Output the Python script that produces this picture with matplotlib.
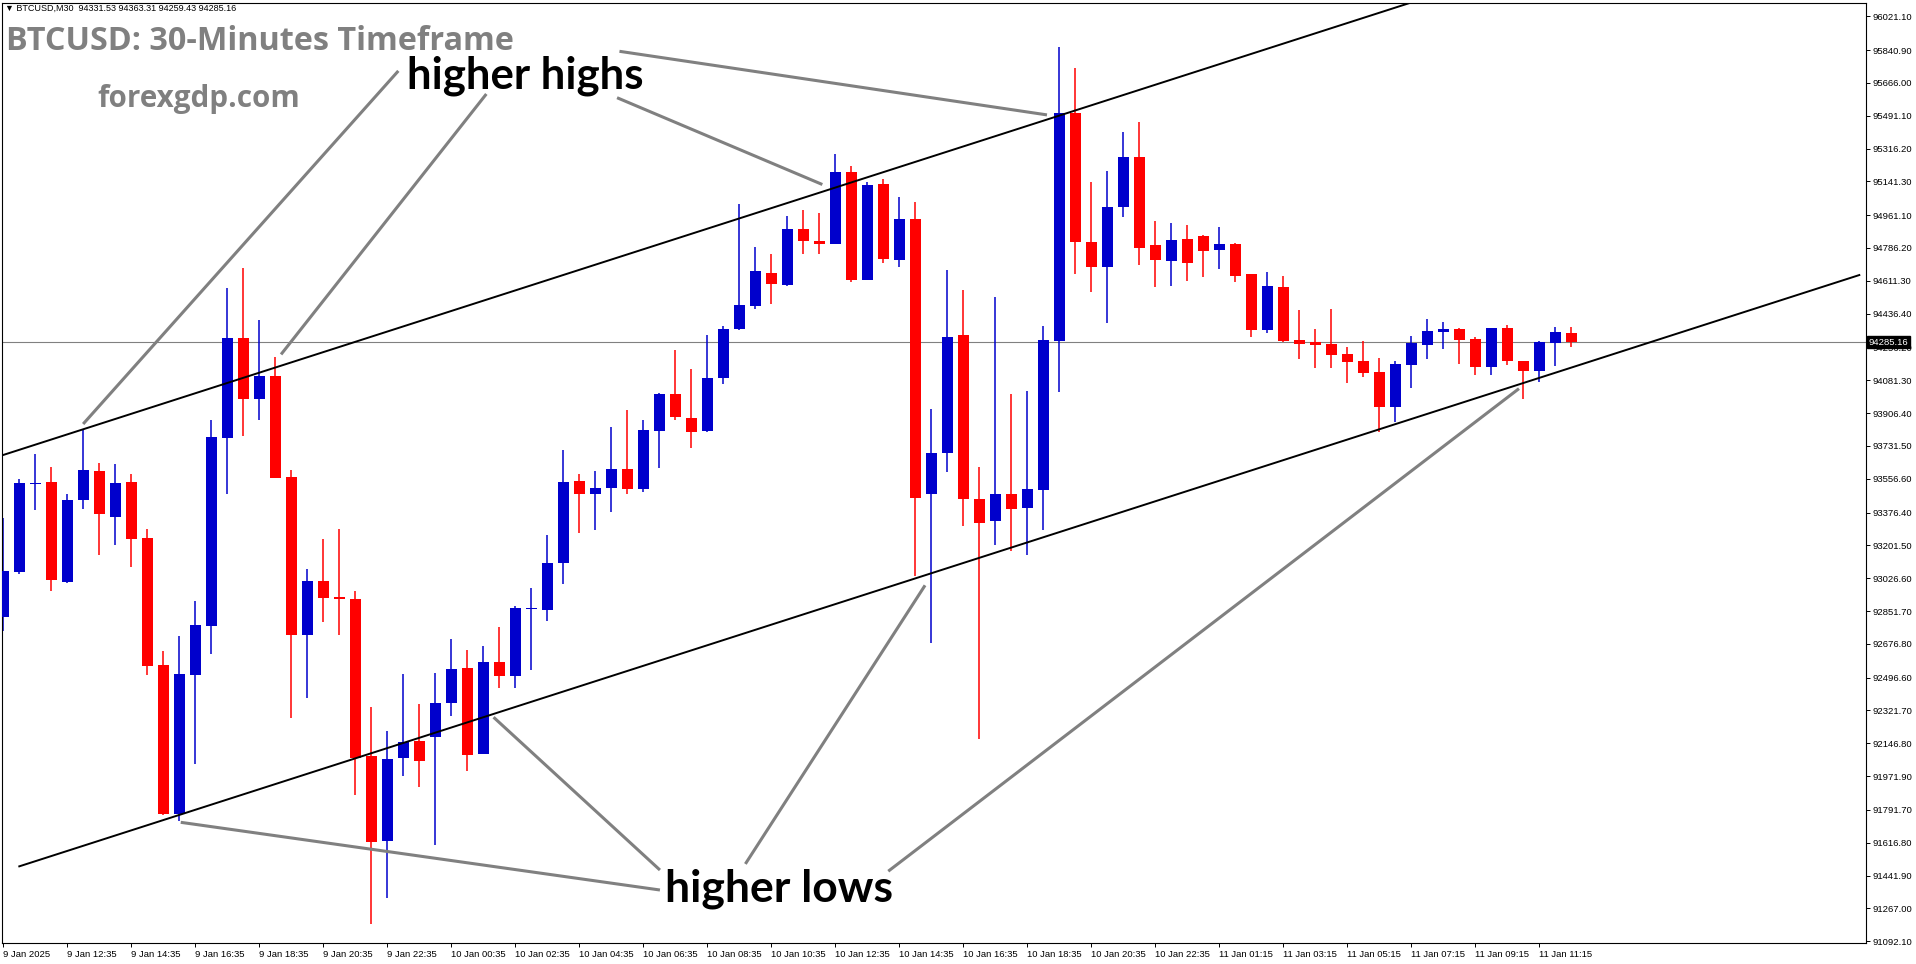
import matplotlib.pyplot as plt
import numpy as np

# BTCUSD M30 candles
opens = [92822, 93059, 93530, 93539, 93005, 93441, 93599, 93351, 93539, 93239,
         92563, 91770, 92511, 92773, 93773, 94305, 93980, 94106, 93566, 92724,
         93010, 92925, 92915, 92078, 91625, 92067, 92157, 92179, 92361, 92546,
         92091, 92582, 92506, 92860, 92857, 93105, 93542, 93473, 93509, 93610,
         93501, 93809, 94010, 93882, 93809, 94092, 94354, 94477, 94651, 94588,
         94885, 94825, 94809, 95191, 94618, 95125, 94722, 94940, 93473, 93693,
         94321, 93448, 93329, 93476, 93402, 93497, 94289, 95505, 94816, 94686,
         95007, 95271, 94803, 94719, 94833, 94850, 94778, 94808, 94648, 94351,
         94579, 94296, 94287, 94275, 94222, 94184, 94126, 93941, 94165, 94271,
         94341, 94355, 94302, 94154, 94360, 94184, 94133, 94282, 94331.53]
highs = [93345, 93555, 93686, 93618, 93473, 93822, 93640, 93637, 93582, 93291,
         92637, 92718, 92904, 93871, 94575, 94678, 94400, 94207, 93604, 93078,
         93236, 93288, 92958, 92342, 92214, 92514, 92356, 92519, 92705, 92642,
         92664, 92765, 92877, 92972, 93258, 93711, 93582, 93596, 93833, 93923,
         93871, 94016, 94245, 94139, 94321, 94373, 95022, 94790, 94752, 94956,
         94986, 94973, 95286, 95221, 95136, 95152, 95057, 95030, 93927, 94670,
         94561, 93617, 94525, 94009, 94022, 94370, 95858, 95747, 95137, 95197,
         95404, 95458, 94931, 94920, 94909, 94855, 94898, 94812, 94650, 94659,
         94637, 94456, 94355, 94462, 94259, 94291, 94200, 94183, 94318, 94408,
         94392, 94362, 94314, 94362, 94376, 94186, 94290, 94366, 94363.31]
lows = [92746, 93048, 93392, 92958, 93000, 93397, 93149, 93204, 93086, 92511,
        91764, 91731, 92037, 92623, 93473, 93782, 93869, 93560, 92282, 92386,
        92795, 92724, 91873, 91186, 91320, 91971, 91914, 91606, 92290, 91999,
        92088, 92440, 92440, 92536, 92800, 92996, 93269, 93285, 93381, 93473,
        93487, 93612, 93869, 93719, 93806, 94059, 94350, 94463, 94490, 94585,
        94752, 94752, 94805, 94607, 94613, 94708, 94686, 93040, 92679, 93595,
        93307, 92167, 93206, 93174, 93152, 93285, 94020, 94645, 94553, 94384,
        94950, 94697, 94580, 94585, 94612, 94634, 94673, 94607, 94314, 94335,
        94287, 94192, 94144, 94144, 94069, 94101, 93803, 93861, 94042, 94195,
        94248, 94170, 94112, 94112, 94160, 93982, 94074, 94158, 94259.43]
closes = [93065, 93533, 93536, 93018, 93441, 93604, 93370, 93533, 93236, 92560,
          91770, 92514, 92776, 93779, 94308, 93980, 94106, 93563, 92724, 93010,
          92923, 92918, 92070, 91620, 92064, 92154, 92050, 92364, 92541, 92083,
          92582, 92506, 92866, 92866, 93105, 93539, 93473, 93509, 93610, 93501,
          93817, 94010, 93885, 93803, 94095, 94357, 94482, 94662, 94594, 94885,
          94825, 94809, 95191, 94618, 95120, 94725, 94940, 93454, 93693, 94311,
          93446, 93323, 93476, 93397, 93500, 94294, 95505, 94816, 94686, 95007,
          95271, 94784, 94724, 94827, 94708, 94772, 94808, 94639, 94351, 94584,
          94291, 94277, 94271, 94218, 94181, 94122, 93941, 94168, 94280, 94344,
          94355, 94298, 94154, 94360, 94186, 94128, 94287, 94339, 94285.16]

time_pos = list(range(0, 97, 4))
time_labels = ['9 Jan 2025', '9 Jan 12:35', '9 Jan 14:35', '9 Jan 16:35', '9 Jan 18:35',
               '9 Jan 20:35', '9 Jan 22:35', '10 Jan 00:35', '10 Jan 02:35', '10 Jan 04:35',
               '10 Jan 06:35', '10 Jan 08:35', '10 Jan 10:35', '10 Jan 12:35', '10 Jan 14:35',
               '10 Jan 16:35', '10 Jan 18:35', '10 Jan 20:35', '10 Jan 22:35', '11 Jan 01:15',
               '11 Jan 03:15', '11 Jan 05:15', '11 Jan 07:15', '11 Jan 09:15', '11 Jan 11:15']
price_ticks = [96021.10, 95840.90, 95666.00, 95491.10, 95316.20, 95141.30, 94961.10,
               94786.20, 94611.30, 94436.40, 94256.20, 94081.30, 93906.40, 93731.50,
               93556.60, 93376.40, 93201.50, 93026.60, 92851.70, 92676.80, 92496.60,
               92321.70, 92146.80, 91971.90, 91791.70, 91616.80, 91441.90, 91267.00,
               91092.10]

# channel trendlines (bar index, price)
upper_line = ([-1, 90], [93655.9, 96149.3])
lower_line = ([1.0, 116.0], [91491.0, 94642.0])

# annotation pointers: (text end), (target)
highs_ptrs = [((24.69, 95729.9), (4.99, 93848.2)),
              ((30.19, 95606.8), (17.36, 94219.1)),
              ((38.36, 95587.0), (51.19, 95124.5)),
              ((38.51, 95834.3), (65.23, 95495.4))]
lows_ptrs = [((41.04, 91364.9), (11.09, 91725.6)),
             ((41.04, 91471.4), (30.64, 92285.7)),
             ((46.38, 91503.9), (57.61, 92988.6)),
             ((55.31, 91465.0), (94.73, 94036.8))]

W, H = 1916, 964
fig = plt.figure(figsize=(W / 100, H / 100), dpi=100)
ax = fig.add_axes([2 / W, (H - 943) / H, 1864 / W, 940 / H])

o = np.array(opens); h = np.array(highs); l = np.array(lows); c = np.array(closes)
x = np.arange(len(o))
col = np.where(c >= o, '#0000CC', '#FF0000')

last = closes[-1]
ax.axhline(last, color='#808080', lw=0.8, zorder=0)

ax.vlines(x, l, h, colors=col, lw=1.1, zorder=2)
body_low = np.minimum(o, c)
body_h = np.maximum(np.abs(c - o), 5)
ax.bar(x, body_h, bottom=body_low, width=0.69, color=col, lw=0, zorder=3)

ax.plot(*upper_line, color='black', lw=1.4, zorder=4)
ax.plot(*lower_line, color='black', lw=1.4, zorder=4)

for (a, b) in highs_ptrs + lows_ptrs:
    ax.plot([a[0], b[0]], [a[1], b[1]], color='#808080', lw=2.2,
            solid_capstyle='butt', zorder=5)

ax.text(32.6, 95705, 'higher highs', fontsize=31.5, fontweight='bold', family='Lato',
        ha='center', va='center', color='black', zorder=6)
ax.text(48.5, 91370, 'higher lows', fontsize=32, fontweight='bold', family='Lato',
        ha='center', va='center', color='black', zorder=6)

ax.set_xlim((2 - 3.3) / 16, (1866 - 3.3) / 16)
ax.set_ylim(91082.5, 96091.7)

ax.yaxis.tick_right()
ax.set_yticks(price_ticks)
ax.set_yticklabels(['%.2f' % p for p in price_ticks])
ax.set_xticks(time_pos)
ax.set_xticklabels(time_labels)
ax.tick_params(axis='both', length=3, width=0.7, labelsize=6.8, pad=2, color='black')
for lbl in ax.get_xticklabels():
    lbl.set_ha('left')
    lbl.set_family('Liberation Sans')
for lbl in ax.get_yticklabels():
    lbl.set_family('Liberation Sans')
for s in ax.spines.values():
    s.set_linewidth(0.8)

ax.text(1.0015, last, '%.2f' % last, transform=ax.get_yaxis_transform(),
        fontsize=6.8, family='Liberation Sans', color='white', va='center', ha='left',
        bbox=dict(boxstyle='square,pad=0.15', fc='black', ec='black'), clip_on=False, zorder=10)

fig.text(5 / W, 1 - 8 / H, '\u25bc BTCUSD,M30  94331.53 94363.31 94259.43 94285.16',
         fontsize=6.5, family='Liberation Sans', va='center', ha='left')
fig.text(6 / W, 1 - 41 / H, 'BTCUSD: 30-Minutes Timeframe', fontsize=23.3,
         fontweight='bold', family='Open Sans', color='#808080', va='center', ha='left')
fig.text(199 / W, 1 - 99 / H, 'forexgdp.com', fontsize=21.3,
         fontweight='bold', family='Open Sans', color='#808080', va='center', ha='center')

fig.savefig('out.png', dpi=100)
